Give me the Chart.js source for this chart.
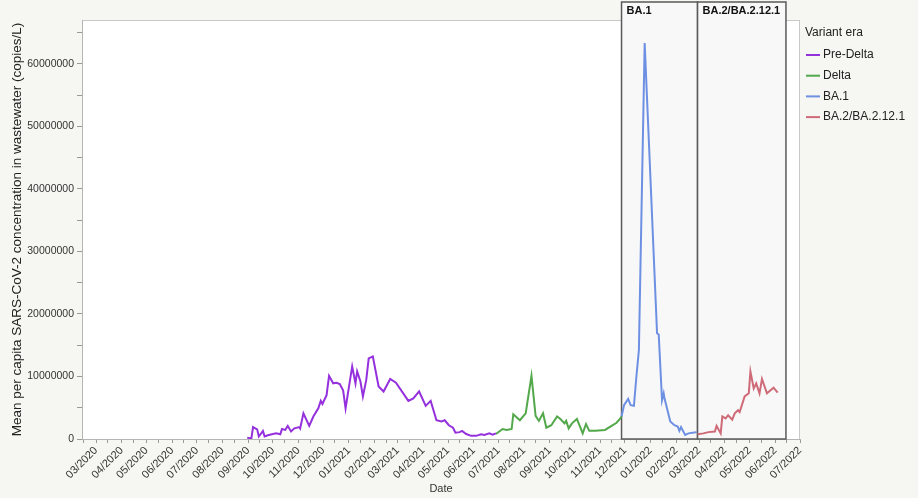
<!DOCTYPE html>
<html>
<head>
<meta charset="utf-8">
<script src="https://cdn.jsdelivr.net/npm/chart.js@4/dist/chart.umd.min.js"></script>
<style>
  html, body { margin: 0; padding: 0; background: #f6f6f2; }
  canvas { display: block; }
</style>
</head>
<body>
<canvas id="grafico" width="918" height="498"></canvas>
<script>
// data (dates of samples, copies/L)
const preDeltaDates = ['2020-08-31','2020-09-05','2020-09-07','2020-09-12','2020-09-14','2020-09-19','2020-09-21','2020-09-25','2020-10-01','2020-10-05','2020-10-10','2020-10-12','2020-10-16','2020-10-19','2020-10-23','2020-10-27','2020-11-02','2020-11-03','2020-11-07','2020-11-14','2020-11-19','2020-11-25','2020-11-28','2020-11-30','2020-12-05','2020-12-08','2020-12-13','2020-12-17','2020-12-21','2020-12-25','2020-12-28','2021-01-05','2021-01-09','2021-01-11','2021-01-15','2021-01-18','2021-01-22','2021-01-25','2021-01-30','2021-02-06','2021-02-12','2021-02-20','2021-02-27','2021-03-14','2021-03-20','2021-03-27','2021-04-04','2021-04-10','2021-04-17','2021-04-23','2021-04-27','2021-05-02','2021-05-07','2021-05-10','2021-05-15','2021-05-18','2021-05-23','2021-05-29','2021-06-04','2021-06-10','2021-06-14','2021-06-20','2021-06-24','2021-06-28'];
const preDeltaValues = [200000,100000,1900000,1550000,400000,1300000,400000,600000,800000,900000,750000,1600000,1450000,2100000,1200000,1700000,1900000,1700000,4100000,2100000,3600000,4900000,6100000,5600000,7000000,10100000,8900000,9000000,8800000,7800000,4900000,11600000,8900000,10800000,9200000,6800000,9400000,12900000,13200000,8400000,7600000,9600000,9000000,6100000,6500000,7600000,5300000,6100000,3000000,2800000,3000000,2200000,1800000,1000000,1100000,1300000,800000,500000,500000,750000,650000,900000,700000,900000];

const deltaDates = ['2021-06-28','2021-07-06','2021-07-11','2021-07-17','2021-07-19','2021-07-27','2021-08-03','2021-08-10','2021-08-15','2021-08-19','2021-08-24','2021-08-28','2021-09-03','2021-09-10','2021-09-14','2021-09-19','2021-09-21','2021-09-24','2021-09-28','2021-10-04','2021-10-11','2021-10-15','2021-10-19','2021-10-26','2021-11-07','2021-11-15','2021-11-21','2021-11-25','2021-11-27'];
const deltaValues = [800000,1600000,1450000,1600000,3950000,3000000,4100000,10100000,3700000,2900000,4100000,1800000,2200000,3600000,3200000,2500000,2900000,1700000,2500000,3200000,900000,2400000,1300000,1300000,1450000,2100000,2600000,3200000,3600000];

const ba1Dates = ['2021-11-27','2021-11-30','2021-12-05','2021-12-08','2021-12-12','2021-12-15','2021-12-18','2021-12-25','2022-01-09','2022-01-11','2022-01-15','2022-01-17','2022-01-18','2022-01-25','2022-01-30','2022-02-03','2022-02-05','2022-02-07','2022-02-12','2022-02-16','2022-02-21','2022-02-26'];
const ba1Values = [3600000,5400000,6400000,5400000,5300000,10000000,14200000,63300000,16900000,16700000,6200000,7300000,6500000,2800000,2200000,2000000,1300000,1900000,650000,900000,1000000,1100000];

const ba2Dates = ['2022-02-27','2022-03-06','2022-03-12','2022-03-20','2022-03-22','2022-03-27','2022-03-29','2022-04-02','2022-04-05','2022-04-10','2022-04-13','2022-04-17','2022-04-19','2022-04-25','2022-04-30','2022-05-02','2022-05-06','2022-05-09','2022-05-13','2022-05-16','2022-05-22','2022-05-30','2022-06-04'];
const ba2Values = [750000,900000,1100000,1200000,2100000,900000,3600000,3300000,3800000,3100000,4100000,4600000,4300000,6800000,7300000,10800000,8100000,8900000,7300000,9600000,7300000,8200000,7400000];

const seriesNames = ['Pre-Delta', 'Delta', 'BA.1', 'BA.2/BA.2.12.1'];
const seriesColors = ['#9530dd', '#52a84a', '#6e90e3', '#cf6b78'];

// shaded variant periods at the top of the plot
const eraLabels = ['BA.1', 'BA.2/BA.2.12.1'];
const eraStarts = ['2021-11-27', '2022-02-27'];
const eraEnds = ['2022-02-27', '2022-06-14'];

const monthLabels = ['03/2020','04/2020','05/2020','06/2020','07/2020','08/2020','09/2020','10/2020','11/2020','12/2020','01/2021','02/2021','03/2021','04/2021','05/2021','06/2021','07/2021','08/2021','09/2021','10/2021','11/2021','12/2021','01/2022','02/2022','03/2022','04/2022','05/2022','06/2022','07/2022'];
const yTickValues = [0, 10000000, 20000000, 30000000, 40000000, 50000000, 60000000];

const xStart = '2020-02-13';
const xEnd = '2022-07-01';
const yMax = 67000000;

const origen = Date.UTC(2020, 2, 1);
function aDia(fecha) {
    return Math.round((Date.parse(fecha) - origen) / 864e5);
}
function mesADia(etiqueta) {
    const [m, a] = etiqueta.split('/');
    return aDia(`${a}-${m}-01`);
}

const etiquetasPorDia = {};
monthLabels.forEach(e => { etiquetasPorDia[mesADia(e)] = e; });

// month ticks plus a minor tick in the middle of every month
const ticksX = [aDia('2020-02-15')];
monthLabels.forEach((e, i) => {
    ticksX.push(mesADia(e));
    if (i < monthLabels.length - 1) {
        const [m, a] = e.split('/');
        ticksX.push(aDia(`${a}-${m}-15`));
    }
});

const ticksY = [];
for (let v = 0; v <= 65000000; v += 5000000) ticksY.push(v);

function puntos(fechas, valores) {
    return fechas.map((f, i) => ({ x: aDia(f), y: valores[i] }));
}

const listas = [
    puntos(preDeltaDates, preDeltaValues),
    puntos(deltaDates, deltaValues),
    puntos(ba1Dates, ba1Values),
    puntos(ba2Dates, ba2Values)
];

const fuente = '"Liberation Sans", Arial, Helvetica, sans-serif';

const fondoPlugin = {
    id: 'fondo',
    beforeDraw(chart) {
        const { ctx, chartArea: ca } = chart;
        ctx.save();
        ctx.fillStyle = '#f6f6f2';
        ctx.fillRect(0, 0, chart.width, chart.height);
        ctx.fillStyle = '#ffffff';
        ctx.fillRect(ca.left, ca.top, ca.right - ca.left, ca.bottom - ca.top);
        ctx.strokeStyle = '#c9c9c9';
        ctx.lineWidth = 1;
        ctx.strokeRect(ca.left + 0.5, ca.top + 0.5, ca.right - ca.left - 1, ca.bottom - ca.top);
        ctx.restore();
    },
    beforeDatasetsDraw(chart) {
        const { ctx, chartArea: ca, scales } = chart;
        ctx.save();
        eraLabels.forEach((lab, i) => {
            const x0 = scales.x.getPixelForValue(aDia(eraStarts[i]));
            const x1 = scales.x.getPixelForValue(aDia(eraEnds[i]));
            ctx.fillStyle = '#f8f8f8';
            ctx.fillRect(x0, 2, x1 - x0, ca.bottom - 2);
            ctx.strokeStyle = '#5a5a5a';
            ctx.lineWidth = 1.5;
            ctx.strokeRect(x0, 2, x1 - x0, ca.bottom - 2);
            ctx.fillStyle = '#111';
            ctx.font = 'bold 11px ' + fuente;
            ctx.textBaseline = 'middle';
            ctx.textAlign = 'left';
            ctx.fillText(lab, x0 + 5, 11);
        });
        ctx.restore();
    },
    afterDraw(chart) {
        const { ctx } = chart;
        ctx.save();
        ctx.font = '12px ' + fuente;
        ctx.textBaseline = 'middle';
        ctx.textAlign = 'left';
        ctx.fillStyle = '#222';
        ctx.fillText('Variant era', 805, 33);
        chart.data.datasets.forEach((ds, i) => {
            const y = 55 + i * 20.7;
            ctx.strokeStyle = ds.borderColor;
            ctx.lineWidth = 2;
            ctx.beginPath();
            ctx.moveTo(806, y);
            ctx.lineTo(820, y);
            ctx.stroke();
            ctx.fillStyle = '#222';
            ctx.fillText(ds.label, 823, y);
        });
        ctx.restore();
    }
};

new Chart(document.getElementById('grafico'), {
    type: 'line',
    data: {
        datasets: listas.map((d, i) => ({
            label: seriesNames[i],
            data: d,
            borderColor: seriesColors[i],
            backgroundColor: seriesColors[i],
            borderWidth: 2,
            pointRadius: 0,
            tension: 0,
            fill: false
        }))
    },
    options: {
        responsive: false,
        animation: false,
        devicePixelRatio: 1,
        layout: { padding: { top: 20, right: 118, left: 0, bottom: 0 } },
        plugins: {
            legend: { display: false },
            tooltip: { enabled: false }
        },
        scales: {
            x: {
                type: 'linear',
                min: aDia(xStart),
                max: aDia(xEnd),
                afterBuildTicks: scale => { scale.ticks = ticksX.map(v => ({ value: v })); },
                afterFit: scale => { scale.height = 59; },
                grid: { drawOnChartArea: false, tickLength: 4, color: '#9a9a9a' },
                border: { color: '#b5b5b5' },
                ticks: {
                    autoSkip: false,
                    minRotation: 45,
                    maxRotation: 45,
                    padding: 1,
                    color: '#333',
                    font: { size: 11, family: fuente },
                    callback: v => etiquetasPorDia[v] || ''
                },
                title: {
                    display: true,
                    text: 'Date',
                    color: '#333',
                    font: { size: 11, family: fuente },
                    padding: { top: 0, bottom: 2 }
                }
            },
            y: {
                min: 0,
                max: yMax,
                afterBuildTicks: scale => { scale.ticks = ticksY.map(v => ({ value: v })); },
                afterFit: scale => { scale.width = 82; },
                grid: { drawOnChartArea: false, tickLength: 5, color: '#9a9a9a' },
                border: { color: '#b5b5b5' },
                ticks: {
                    padding: 3,
                    color: '#333',
                    font: { size: 10.5, family: fuente },
                    callback: v => (yTickValues.includes(v) ? String(v) : '')
                },
                title: {
                    display: true,
                    text: 'Mean per capita SARS-CoV-2 concentration in wastewater (copies/L)',
                    color: '#222',
                    font: { size: 13.5, family: fuente },
                    padding: { top: 9, bottom: 2 }
                }
            }
        }
    },
    plugins: [fondoPlugin]
});
</script>
</body>
</html>
